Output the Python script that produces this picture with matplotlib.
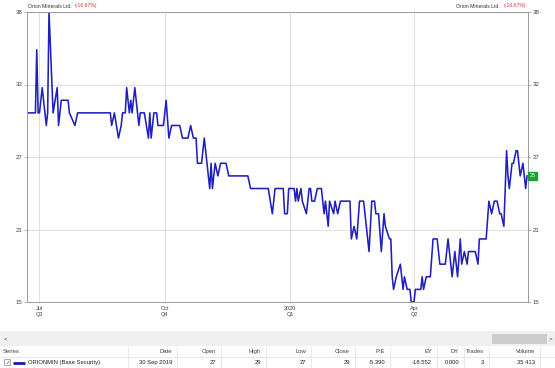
import numpy as np
import pandas as pd
import matplotlib
matplotlib.use('Agg')
import matplotlib.pyplot as plt
from matplotlib.patches import Rectangle

# daily closes
dates = [
  '2019-06-23', '2019-06-28', '2019-06-29', '2019-06-30', '2019-07-01', '2019-07-03', '2019-07-06', '2019-07-07',
  '2019-07-08', '2019-07-11', '2019-07-14', '2019-07-15', '2019-07-17', '2019-07-22', '2019-07-23', '2019-07-27',
  '2019-07-29', '2019-08-22', '2019-08-23', '2019-08-25', '2019-08-28', '2019-08-30', '2019-08-31', '2019-09-02',
  '2019-09-03', '2019-09-05', '2019-09-06', '2019-09-07', '2019-09-09', '2019-09-11', '2019-09-12', '2019-09-13',
  '2019-09-16', '2019-09-19', '2019-09-20', '2019-09-21', '2019-09-23', '2019-09-25', '2019-09-26', '2019-09-30',
  '2019-10-02', '2019-10-04', '2019-10-06', '2019-10-12', '2019-10-14', '2019-10-18', '2019-10-20', '2019-10-22',
  '2019-10-24', '2019-10-25', '2019-10-28', '2019-10-30', '2019-11-03', '2019-11-04', '2019-11-05', '2019-11-07',
  '2019-11-09', '2019-11-11', '2019-11-15', '2019-11-17', '2019-12-01', '2019-12-03', '2019-12-16', '2019-12-19',
  '2019-12-21', '2019-12-27', '2019-12-28', '2019-12-30', '2019-12-31', '2020-01-04', '2020-01-05', '2020-01-06',
  '2020-01-07', '2020-01-09', '2020-01-10', '2020-01-13', '2020-01-15', '2020-01-16', '2020-01-17', '2020-01-19',
  '2020-01-21', '2020-01-24', '2020-01-26', '2020-01-27', '2020-01-29', '2020-01-30', '2020-02-02', '2020-02-03',
  '2020-02-05', '2020-02-07', '2020-02-14', '2020-02-15', '2020-02-17', '2020-02-19', '2020-02-21', '2020-02-24',
  '2020-02-28', '2020-03-01', '2020-03-03', '2020-03-04', '2020-03-06', '2020-03-08', '2020-03-10', '2020-03-11',
  '2020-03-14', '2020-03-15', '2020-03-16', '2020-03-17', '2020-03-19', '2020-03-22', '2020-03-24', '2020-03-25',
  '2020-03-27', '2020-03-29', '2020-03-30', '2020-04-01', '2020-04-02', '2020-04-06', '2020-04-07', '2020-04-08',
  '2020-04-10', '2020-04-13', '2020-04-15', '2020-04-18', '2020-04-20', '2020-04-24', '2020-04-26', '2020-04-27',
  '2020-04-29', '2020-05-01', '2020-05-03', '2020-05-05', '2020-05-06', '2020-05-08', '2020-05-10', '2020-05-11',
  '2020-05-16', '2020-05-18', '2020-05-19', '2020-05-24', '2020-05-26', '2020-05-28', '2020-05-30', '2020-06-01',
  '2020-06-03', '2020-06-04', '2020-06-06', '2020-06-08', '2020-06-09', '2020-06-10', '2020-06-12', '2020-06-13',
  '2020-06-15', '2020-06-16', '2020-06-18', '2020-06-20', '2020-06-22', '2020-06-23',
]
prices = [
  30, 30, 35, 30, 30, 32, 29, 30,
  38, 30, 32, 29, 31, 31, 30, 29,
  30, 30, 29, 30, 28, 29, 30, 30,
  32, 30, 31, 30, 32, 30, 29, 30,
  30, 28, 30, 28, 30, 30, 29, 29,
  31, 28, 29, 29, 28, 28, 29, 28,
  28, 26, 26, 28, 24, 26, 24, 26,
  25, 26, 26, 25, 25, 24, 24, 22,
  24, 24, 22, 22, 24, 24, 23, 24,
  23, 24, 23, 22, 24, 24, 23, 23,
  24, 24, 22, 23, 21, 23, 22, 23,
  22, 23, 23, 20, 21, 20, 23, 23,
  19, 23, 23, 22, 22, 19, 22, 21,
  20, 20, 17, 16, 17, 18, 16, 17,
  16, 16, 15, 15, 16, 16, 17, 16,
  17, 17, 20, 20, 18, 18, 20, 19,
  17, 19, 17, 20, 18, 19, 18, 19,
  19, 18, 20, 20, 23, 22, 23, 23,
  22, 22, 21, 27, 25, 24, 26, 26,
  27, 27, 25, 26, 24, 25,
]

y_range = (15, 38)
ytick_labels = ['15', '21', '27', '32', '38']
xtick_dates = ['2019-07-01', '2019-10-01', '2020-01-01', '2020-04-01']
xtick_labels = ['Jul\nQ3', 'Oct\nQ4', '2020\nQ1', 'Apr\nQ2']
x_range = ('2019-06-21 20:00', '2020-06-23 12:00')

title = 'Orion Minerals Ltd.'
change = '(-16.67%)'

headers = ['Series', 'Date', 'Open', 'High', 'Low', 'Close', 'P:E', 'EY', 'DY', 'Trades', 'Volume']
row = ['ORIONMIN (Base Security)', '30 Sep 2019', '27', '29', '27', '29', '-5.390', '-18.552', '0.000', '3', '35 413']

W, H = 555, 368
plt.rcParams['font.family'] = ['Liberation Sans', 'DejaVu Sans']
fig = plt.figure(figsize=(W / 100, H / 100), dpi=100)
fig.patch.set_facecolor('white')

def px(x0, y0, x1, y1):
  return [x0 / W, 1 - y1 / H, (x1 - x0) / W, (y1 - y0) / H]

ax = fig.add_axes(px(27, 12, 527.7, 302))
d = pd.to_datetime(dates)
ax.plot(d, prices, color='#2020bc', lw=1.15)
ax.set_xlim(pd.to_datetime(x_range[0]), pd.to_datetime(x_range[1]))
ax.set_ylim(*y_range)
ax.set_yticks(np.linspace(y_range[0], y_range[1], len(ytick_labels)))
ax.set_yticklabels(ytick_labels)
ax.set_xticks(pd.to_datetime(xtick_dates))
ax.set_xticklabels(xtick_labels, linespacing=1.2)
for lbl in ax.get_xticklabels():
  if lbl.get_text().startswith('2020'):
    lbl.set_color('#3b3bd0')
ax.grid(True, color='#d9d9d9', lw=0.6)
ax.set_axisbelow(True)
for s in ax.spines.values():
  s.set_color('#9a9a9a')
  s.set_linewidth(0.7)
ax.tick_params(axis='y', labelsize=4.4, colors='#9a9a9a', labelcolor='#404040', length=2,
               width=0.5, pad=1.5, left=True, right=True, labelleft=True, labelright=True)
ax.tick_params(axis='x', labelsize=4.0, labelcolor='#404040', length=0, pad=3)

# last price tag
ax.annotate(str(prices[-1]), xy=(1.0, prices[-1]), xycoords=('axes fraction', 'data'),
            xytext=(1.5, 0), textcoords='offset points', ha='left', va='center',
            fontsize=4.0, color='#e8ffe8',
            bbox=dict(boxstyle='square,pad=0.25', fc='#1f9e3a', ec='#1f9e3a'))

# headings
fig.text(28 / W, 1 - 6 / H, title, fontsize=3.7, color='#303030', va='center', ha='left')
fig.text(75 / W, 1 - 6 / H, change, fontsize=3.7, color='#e03030', va='center', ha='left')
fig.text(526 / W, 1 - 6 / H, change, fontsize=3.7, color='#e03030', va='center', ha='right')
fig.text(500 / W, 1 - 6 / H, title, fontsize=3.7, color='#303030', va='center', ha='right')

# bottom grid panel, drawn in pixel units
tb = fig.add_axes(px(0, 328, W, H))
tb.set_xlim(0, W)
tb.set_ylim(H, 328)
tb.axis('off')
tb.add_patch(Rectangle((0, 331), W, 15, fc='#f0f0f0', ec='none'))
tb.add_patch(Rectangle((492, 334), 55, 10, fc='#cdcdcd', ec='none'))
tb.text(4, 339, '<', fontsize=4.5, color='#505050', va='center')
tb.text(549, 339, '>', fontsize=4.5, color='#505050', va='center')
tb.plot([0, W], [357, 357], color='#e4e4e4', lw=0.6)

right_edges = [None, 172, 216, 261, 306, 350, 385, 432, 459, 484, 535]
for r, h, v in zip(right_edges, headers, row):
  if r is None:
    tb.text(3, 352, h, fontsize=4.2, color='#404040', va='center', ha='left')
    tb.text(28, 363, v, fontsize=4.2, color='#202020', va='center', ha='left')
    sep = 128
  else:
    tb.text(r, 352, h, fontsize=4.2, color='#404040', va='center', ha='right')
    tb.text(r, 363, v, fontsize=4.2, color='#202020', va='center', ha='right')
    sep = r + 5
  tb.plot([sep, sep], [347, H], color='#e4e4e4', lw=0.6)

# checkbox and series swatch
tb.add_patch(Rectangle((4, 359.5), 6, 6, fc='white', ec='#8a8a8a', lw=0.5))
tb.text(7, 362.5, '\u2713', fontsize=4, color='#404040', ha='center', va='center', family='DejaVu Sans')
tb.plot([13, 25], [363, 363], color='#1a1aa8', lw=2.0, solid_capstyle='butt')

fig.savefig('out.png', dpi=100)
